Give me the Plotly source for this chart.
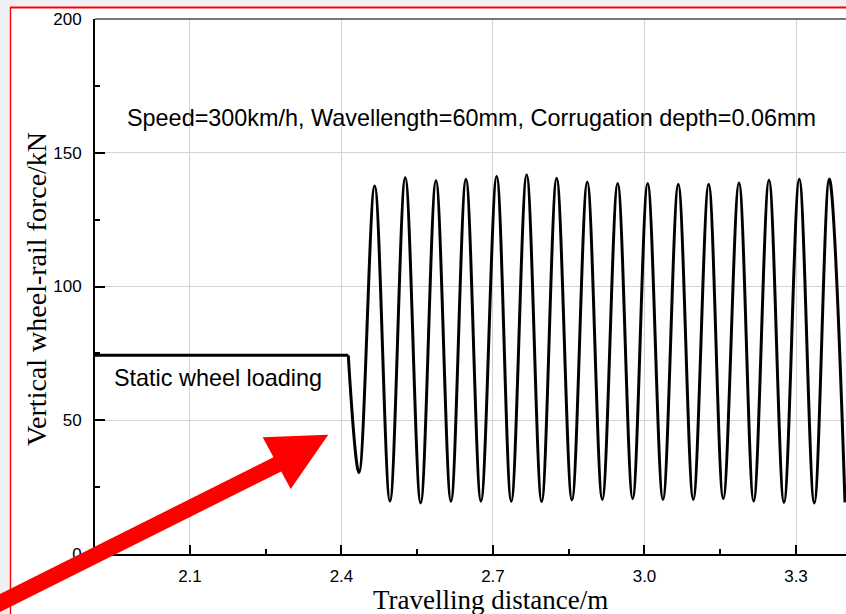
import plotly.graph_objects as go

# ---------------- data ----------------
static_x = [1.912, 2.4135]
static_y = [74.3, 74.3]

wave_x = [2.4135, 2.4347, 2.4657, 2.4960, 2.5263, 2.5568, 2.5871, 2.6168, 2.6465,
          2.6762, 2.7073, 2.7362, 2.7667, 2.7964, 2.8261, 2.8564, 2.8867, 2.9165,
          2.9469, 2.9766, 3.0063, 3.0366, 3.0669, 3.0966, 3.1271, 3.1560, 3.1871,
          3.2162, 3.2465, 3.2762, 3.3065, 3.3362, 3.3659, 3.3970]
wave_y = [74.3, 30.4, 137.6, 19.8, 140.7, 19.1, 139.5, 19.7, 140.1,
          19.8, 141.1, 19.7, 141.7, 19.6, 140.5, 20.2, 139.1, 20.4,
          138.5, 20.7, 138.5, 20.4, 138.2, 20.4, 138.2, 20.7, 138.7,
          19.8, 139.7, 19.3, 140.1, 19.1, 140.2, 19.3]

x_ticks = [2.1, 2.4, 2.7, 3.0, 3.3]
x_ticklabels = ["2.1", "2.4", "2.7", "3.0", "3.3"]
x_minor = [2.25, 2.55, 2.85, 3.15]
y_ticks = [0, 50, 100, 150, 200]
y_ticklabels = ["0", "50", "100", "150", "200"]
y_minor = [25, 75, 125, 175]
x_range = [1.912, 3.399]
y_range = [0, 200]

title_note = "Speed=300km/h, Wavellength=60mm, Corrugation depth=0.06mm"
static_note = "Static wheel loading"
x_title = "Travelling distance/m"
y_title = "Vertical wheel-rail force/kN"

# ---------------- layout geometry ----------------
W, H = 846, 614
ML, MR, MT, MB = 95, 0, 19, 60
PW = W - ML - MR
PH = H - MT - MB


def px(x):
    return (x - ML) / PW


def py(y):
    return (H - MB - y) / PH


SANS = "Liberation Sans, Arial, sans-serif"
SERIF = "Liberation Serif, Times New Roman, serif"

fig = go.Figure()
fig.add_trace(go.Scatter(x=static_x, y=static_y, mode="lines",
                         line=dict(color="black", width=3),
                         hoverinfo="skip", showlegend=False))
fig.add_trace(go.Scatter(x=wave_x, y=wave_y, mode="lines",
                         line=dict(color="black", width=3, shape="spline", smoothing=1),
                         hoverinfo="skip", showlegend=False))

axis_common = dict(
    ticks="inside", tickwidth=2, tickcolor="black",
    showline=True, linecolor="black", linewidth=2,
    showgrid=True, gridcolor="#d3d3d3", gridwidth=1,
    zeroline=False, tickfont=dict(family=SANS, size=17, color="black"),
)

fig.update_layout(
    width=W, height=H,
    margin=dict(l=ML, r=MR, t=MT, b=MB, pad=0, autoexpand=False),
    paper_bgcolor="#eef0f3", plot_bgcolor="white",
    showlegend=False,
    xaxis=dict(range=x_range, tickmode="array", tickvals=x_ticks, ticktext=x_ticklabels,
               ticklen=9, ticklabelstandoff=6,
               minor=dict(tickvals=x_minor, ticks="inside", ticklen=5, tickwidth=2,
                          tickcolor="black", showgrid=False),
               **axis_common),
    yaxis=dict(range=y_range, tickmode="array", tickvals=y_ticks, ticktext=y_ticklabels,
               ticklen=10, ticklabelstandoff=8,
               minor=dict(tickvals=y_minor, ticks="inside", ticklen=5, tickwidth=2,
                          tickcolor="black", showgrid=False),
               **axis_common),
)

shapes = [
    # white page inside the red frame
    dict(type="rect", xref="paper", yref="paper", x0=px(10), x1=px(900), y0=py(700), y1=py(8),
         fillcolor="white", line=dict(width=0), layer="below"),
    # red frame lines
    dict(type="line", xref="paper", yref="paper", x0=px(10), x1=px(900), y0=py(7.5), y1=py(7.5),
         line=dict(color="#ff0000", width=2.2), layer="above"),
    dict(type="line", xref="paper", yref="paper", x0=px(10.5), x1=px(10.5), y0=py(700), y1=py(7.5),
         line=dict(color="#ff0000", width=1.4), layer="above"),
    # top frame of the plot
    dict(type="line", xref="paper", yref="paper", x0=0, x1=1, y0=1, y1=1,
         line=dict(color="#777777", width=2), layer="above"),
]

arrow_pts = [(328.3, 434.7), (262.7, 437.3), (273.5, 457.3), (-5, 596.5),
             (-5, 614.5), (281.2, 471.4), (290.7, 489.0)]
path = "M " + " L ".join(f"{px(a):.5f},{py(b):.5f}" for a, b in arrow_pts) + " Z"
shapes.append(dict(type="path", xref="paper", yref="paper", path=path,
                   fillcolor="#ff0000", line=dict(width=0), layer="above"))

fig.update_layout(shapes=shapes)

fig.add_annotation(x=px(471), y=py(118), xref="paper", yref="paper", text=title_note,
                   showarrow=False, xanchor="center", yanchor="middle",
                   font=dict(family=SANS, size=23.4, color="black"))
fig.add_annotation(x=px(218), y=py(378), xref="paper", yref="paper", text=static_note,
                   showarrow=False, xanchor="center", yanchor="middle",
                   font=dict(family=SANS, size=23.4, color="black"))
fig.add_annotation(x=px(490), y=py(600), xref="paper", yref="paper", text=x_title,
                   showarrow=False, xanchor="center", yanchor="middle",
                   font=dict(family=SERIF, size=27, color="black"))
fig.add_annotation(x=px(36), y=py(289), xref="paper", yref="paper", text=y_title,
                   showarrow=False, xanchor="center", yanchor="middle", textangle=-90,
                   font=dict(family=SERIF, size=28, color="black"))

fig.write_html(
    "out.html",
    config={"displayModeBar": False},
    post_script="document.body.style.margin='0';document.body.style.overflow='hidden';",
)
